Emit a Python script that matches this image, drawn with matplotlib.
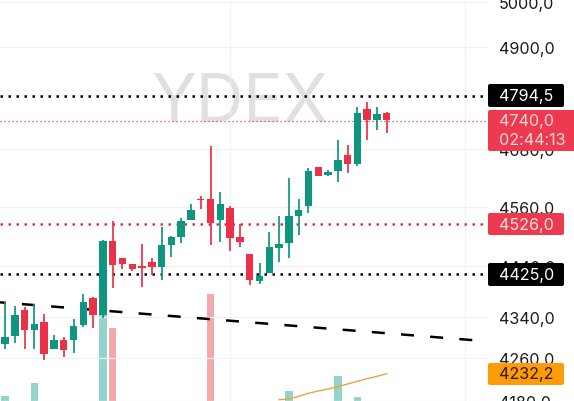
import matplotlib
matplotlib.use("Agg")
import matplotlib.pyplot as plt
from matplotlib.patches import FancyBboxPatch
from matplotlib.ticker import FixedLocator, FixedFormatter, NullLocator
from matplotlib.transforms import IdentityTransform

plt.rcParams['font.family'] = ['Inter', 'DejaVu Sans']

opens  = [4287,4303,4354,4315,4331,4279,4295,4295,4325,4378,4345,4492,4457,4445,4441,4448,4438,4483,4499,4534,
          4577,4577,4534,4558,4499,4466,4411,4428,4478,4487,4541,4563,4643,4627,4634,4669,4650,4766,4742,4758]
closes = [4301,4344,4315,4326,4269,4295,4276,4322,4370,4345,4492,4443,4445,4435,4437,4438,4483,4499,4532,4554,
          4574,4528,4567,4498,4490,4413,4421,4479,4485,4541,4554,4635,4625,4632,4657,4650,4757,4742,4756,4742]
highs  = [4369,4362,4359,4365,4347,4306,4302,4337,4386,4380,4494,4532,4458,4445,4486,4458,4519,4501,4538,4567,
          4584,4687,4591,4563,4525,4466,4446,4509,4541,4620,4577,4641,4643,4636,4700,4690,4771,4780,4770,4759]
lows   = [4279,4289,4278,4278,4257,4279,4263,4271,4321,4319,4339,4397,4436,4431,4399,4423,4413,4459,4488,4534,
          4556,4483,4490,4471,4480,4404,4405,4428,4449,4458,4504,4548,4625,4624,4613,4631,4645,4701,4722,4714]

volume_idx    = [0, 3, 10, 11, 21, 29, 34, 36]
volume_values = [5, 18, 87, 73, 107, 10, 25, 4]
volume_up     = [True, True, True, False, False, True, True, True]
ma_idx    = [28, 29, 30, 31, 32, 33, 34, 35, 36, 37, 38, 39]
ma_values = [1.3, 2, 4.7, 7.7, 10, 12, 14.3, 17, 19.7, 22.3, 24.7, 27.3]

tick_prices = [5000, 4900, 4680, 4560, 4440, 4340, 4260, 4180]
tick_labels = ["5000,0", "4900,0", "4680,0", "4560,0", "4440,0", "4340,0", "4260,0", "4180,0"]
resistance, support, target, last, ma_last = 4794.5, 4425.0, 4526.0, 4740.0, 4232.2
countdown = "02:44:13"
trend_x = [-0.51, 48.0]
trend_y = [4369, 4295]
symbol = "YDEX"

GREEN, RED = "#0E9680", "#EB3148"
GREEN_V, RED_V = "#93D3CC", "#F3A9AC"
GRID = "#F1F1F3"

fig = plt.figure(figsize=(5.74, 4.02), dpi=100)
ax2 = fig.add_axes([0, 0, 488/574, 1])
ax = fig.add_axes([0, 0, 488/574, 1])
ax.set_zorder(2); ax2.set_zorder(1)
ax.patch.set_visible(False)

ax.set_yscale('log')
ax.set_ylim(4179.3, 5007.8)
ax.set_xlim(-0.51, 49.34)
ax2.set_xlim(-0.51, 49.34)
ax2.set_ylim(0, 402)
ax2.axis('off')

ax.yaxis.set_major_locator(FixedLocator(tick_prices))
ax.yaxis.set_major_formatter(FixedFormatter(tick_labels))
ax.yaxis.set_minor_locator(NullLocator())
ax.yaxis.tick_right()
ax.tick_params(axis='y', length=0, pad=8, labelsize=11.6, labelcolor="#1B1B1F")
ax.set_xticks([23, 47])
ax.tick_params(axis='x', length=0, labelbottom=False)
ax.grid(True, color=GRID, lw=0.9, zorder=0)
ax.set_axisbelow(True)
for s in ax.spines.values():
    s.set_visible(False)

ax.text(0.4918, 0.74, symbol, transform=ax.transAxes, ha='center', va='center',
        fontsize=47.5, color="#E0E0E0", zorder=0.5)

dot_lw = 1.8
ax.axhline(resistance, color="black", lw=dot_lw, ls=(0, (1, 2.2)), zorder=1)
ax.axhline(support, color="black", lw=dot_lw, ls=(0, (1, 2.2)), zorder=1)
ax.axhline(target, color="#D8384F", lw=dot_lw, ls=(0, (1, 2.2)), zorder=1)
ax.axhline(last, color="#E0404F", lw=0.9, ls=(0, (1, 2.2)), zorder=1)

ax.plot(trend_x, trend_y, color="black", lw=dot_lw, ls=(2.9, (5.2, 6.5)),
        dash_capstyle='butt', zorder=1.5)

ax2.bar(volume_idx, volume_values, width=0.78,
        color=[GREEN_V if u else RED_V for u in volume_up], zorder=1)
ax2.plot(ma_idx, ma_values, color="#EFA23B", lw=1.0, zorder=2)

for i in range(len(opens)):
    c = GREEN if closes[i] >= opens[i] else RED
    ax.vlines(i, lows[i], highs[i], color=c, lw=1.25, zorder=2)
    ax.bar(i, abs(closes[i] - opens[i]), bottom=min(opens[i], closes[i]),
           width=0.76, color=c, zorder=3, linewidth=0)


def badge(x0, x1, ytop, ybot, color, lines):
    fig.add_artist(FancyBboxPatch((x0 + 1.5, 402 - ybot + 1.5), x1 - x0 - 3, ybot - ytop - 3,
                                  boxstyle="round,pad=1.5,rounding_size=2",
                                  fc=color, ec="none", transform=IdentityTransform(), zorder=5))
    for text, yc, tc in lines:
        fig.text(499, 402 - yc, text, color=tc, fontsize=11.6, va='center',
                 transform=IdentityTransform(), zorder=6)


badge(488, 564, 85, 108, "black", [(f"{resistance:.1f}".replace('.', ','), 97, "white")])
badge(488, 580, 111, 152, "#EE3A4E", [(f"{last:.1f}".replace('.', ','), 122, "#FBD9DC"),
                                      (countdown, 140.5, "#FBD9DC")])
badge(488, 564, 214, 236, "#EE3A4E", [(f"{target:.1f}".replace('.', ','), 225.5, "#FBE3E5")])
badge(488, 564, 264, 287, "black", [(f"{support:.1f}".replace('.', ','), 275.5, "white")])
badge(488, 564, 364, 386, "#FF9A0A", [(f"{ma_last:.1f}".replace('.', ','), 375, "#2E1C05")])

fig.savefig("out.png", dpi=100)
